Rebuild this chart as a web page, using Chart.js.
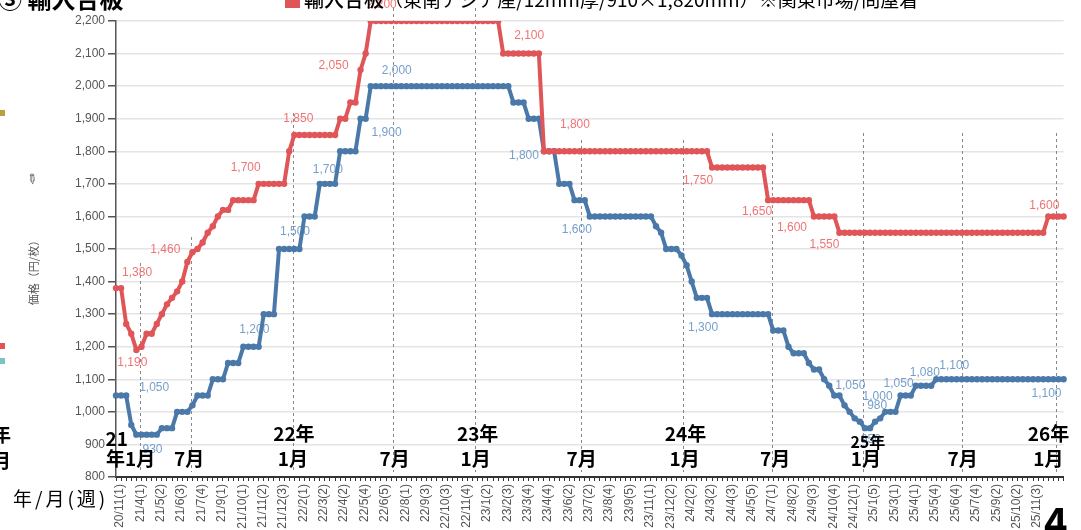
<!DOCTYPE html>
<html>
<head>
<meta charset="utf-8">
<script src="https://cdn.jsdelivr.net/npm/chart.js@4.4.1/dist/chart.umd.min.js"></script>
<style>
html, body { margin: 0; padding: 0; background: #fff; overflow: hidden; }
#wrap { position: relative; width: 1081px; height: 530px; overflow: hidden; font-family: "Noto Sans CJK JP", sans-serif; color: #000; }
#wrap canvas { position: absolute; left: 0; top: 0; }
.ov { position: absolute; white-space: nowrap; line-height: 1; }
.sq { position: absolute; width: 5px; height: 6px; }
</style>
</head>
<body>
<div id="wrap">
  <canvas id="chart" width="1081" height="530" style="width:1081px;height:530px"></canvas>

  <div class="ov" style="left:-2px;top:-14px;font-size:24px;font-weight:bold">③ 輸入合板</div>
  <div style="position:absolute;left:285px;top:-7px;width:15px;height:15px;background:#e05558"></div>
  <div class="ov" style="left:304px;top:-11px;font-size:20px;font-weight:500">輸入合板<span style="font-size:19px;font-weight:400">（東南アジア産/12mm厚/910×1,820mm）※関東市場/問屋着</span></div>

  <div class="sq" style="left:0;top:110px;background:#b8a040"></div>
  <div class="sq" style="left:0;top:343px;background:#e05558"></div>
  <div class="sq" style="left:0;top:358px;background:#7cc4c4"></div>
  <div class="ov" style="left:27px;top:172px;font-size:13px;color:#555;transform:rotate(40deg)">✎</div>
  <div class="ov" style="left:33px;top:270px;font-size:11px;color:#555;transform:translate(-50%,-50%) rotate(-90deg)">価格（円/枚）</div>
  <div class="ov" style="left:-8px;top:424px;font-size:19px;font-weight:bold">年</div>
  <div class="ov" style="left:-8px;top:450px;font-size:19px;font-weight:bold">月</div>
  <div class="ov" style="left:13px;top:488px;font-size:19px;letter-spacing:3px">年/月(週)</div>
  <div class="ov" style="left:1044px;top:500px;font-size:40px;font-weight:bold">4</div>
</div>

<script>
// tick labels shown under the axis (one every 4 weeks)
const tickLabels = [
  '20/11(1)', '21/4(1)', '21/5(2)', '21/6(3)', '21/7(4)', '21/9(1)', '21/10(1)', '21/11(2)',
  '21/12(3)', '22/2(1)', '22/3(2)', '22/4(2)', '22/5(4)', '22/6(5)', '22/8(1)', '22/9(3)',
  '22/10(3)', '22/11(4)', '23/1(2)', '23/2(3)', '23/3(4)', '23/4(4)', '23/6(2)', '23/7(2)',
  '23/8(4)', '23/9(5)', '23/11(1)', '23/12(2)', '24/2(2)', '24/3(2)', '24/4(3)', '24/5(5)',
  '24/7(1)', '24/8(2)', '24/9(3)', '24/10(4)', '24/12(1)', '25/1(5)', '25/3(1)', '25/4(1)',
  '25/5(4)', '25/6(4)', '25/7(4)', '25/9(2)', '25/10(2)', '25/11(3)'
];

// 輸入合板 (red)
const importPly = [
  1380,1380,1270,1240,1190,1200,1240,1240,1270,1300,
  1330,1350,1370,1400,1460,1490,1500,1520,1550,1570,
  1600,1620,1620,1650,1650,1650,1650,1650,1700,1700,
  1700,1700,1700,1700,1800,1850,1850,1850,1850,1850,
  1850,1850,1850,1850,1900,1900,1950,1950,2050,2100,
  2200,2200,2200,2200,2200,2200,2200,2200,2200,2200,
  2200,2200,2200,2200,2200,2200,2200,2200,2200,2200,
  2200,2200,2200,2200,2200,2200,2100,2100,2100,2100,
  2100,2100,2100,2100,1800,1800,1800,1800,1800,1800,
  1800,1800,1800,1800,1800,1800,1800,1800,1800,1800,
  1800,1800,1800,1800,1800,1800,1800,1800,1800,1800,
  1800,1800,1800,1800,1800,1800,1800,1750,1750,1750,
  1750,1750,1750,1750,1750,1750,1750,1750,1650,1650,
  1650,1650,1650,1650,1650,1650,1650,1600,1600,1600,
  1600,1600,1550,1550,1550,1550,1550,1550,1550,1550,
  1550,1550,1550,1550,1550,1550,1550,1550,1550,1550,
  1550,1550,1550,1550,1550,1550,1550,1550,1550,1550,
  1550,1550,1550,1550,1550,1550,1550,1550,1550,1550,
  1550,1550,1550,1600,1600,1600,1600
];

// 国産 (blue)
const domesticPly = [
  1050,1050,1050,960,930,930,930,930,930,950,
  950,950,1000,1000,1000,1020,1050,1050,1050,1100,
  1100,1100,1150,1150,1150,1200,1200,1200,1200,1300,
  1300,1300,1500,1500,1500,1500,1500,1600,1600,1600,
  1700,1700,1700,1700,1800,1800,1800,1800,1900,1900,
  2000,2000,2000,2000,2000,2000,2000,2000,2000,2000,
  2000,2000,2000,2000,2000,2000,2000,2000,2000,2000,
  2000,2000,2000,2000,2000,2000,2000,2000,1950,1950,
  1950,1900,1900,1900,1800,1800,1800,1700,1700,1700,
  1650,1650,1650,1600,1600,1600,1600,1600,1600,1600,
  1600,1600,1600,1600,1600,1600,1570,1550,1500,1500,
  1500,1480,1450,1400,1350,1350,1350,1300,1300,1300,
  1300,1300,1300,1300,1300,1300,1300,1300,1300,1250,
  1250,1250,1200,1180,1180,1180,1150,1130,1130,1100,
  1080,1050,1050,1020,1000,980,970,950,950,970,
  980,1000,1000,1000,1050,1050,1050,1080,1080,1080,
  1080,1100,1100,1100,1100,1100,1100,1100,1100,1100,
  1100,1100,1100,1100,1100,1100,1100,1100,1100,1100,
  1100,1100,1100,1100,1100,1100,1100
];

// which points carry a value label
const importLabelIdx = [1, 4, 14, 28, 35, 48, 50, 76, 84, 117, 128, 137, 142, 183];
const domesticLabelIdx = [2, 5, 25, 32, 40, 48, 50, 84, 93, 117, 141, 144, 147, 150, 154, 157, 161, 185];

// year / month markers (position in weeks along the axis)
const markPos = [4.65, 14.74, 34.72, 54.3, 70.4, 91.2, 111.2, 128.8, 146.6, 166.0, 184.6];
const markYear = ['21', '', '22年', '', '23年', '', '24年', '', '25年', '', '26年'];
const markMonth = ['年1月', '7月', '1月', '7月', '1月', '7月', '1月', '7月', '1月', '7月', '1月'];

// ---- styles ----
const RED = '#e05558', BLUE = '#4a79a9';
const importLabelOff = [[16,-15],[-4,13],[-22,-12],[-13,-16],[4,-16],[-27,-4],[11,-16],[26,-18],[31,-27],[-14,13],[-11,12],[-22,11],[-15,12],[-4,-11]];
const domesticLabelOff = [[28,-8],[11,15],[11,-17],[16,-17],[8,-14],[26,14],[26,-15],[-20,4],[-13,13],[-9,14],[16,-10],[28,-15],[6,12],[-3,-13],[-2,-12],[9,-13],[18,-14],[-12,14]];
const markTop = [263, 237, 113, 8, 8, 140, 140, 133, 133, 133, 133];
const yearDx = [-23, 0, 1, 0, 3, 0, 3, 0, 5, 0, -8];
const monthDx = [-9, -2, 0, 2, 1, 1, 2, 3, 3, 1, -8];

const categories = importPly.map((v, i) => (i % 4 === 0 ? (tickLabels[i / 4] || '') : ''));

const fmt = v => v.toLocaleString('en-US');

const markPlugin = {
  id: 'marks',
  beforeDatasetsDraw(chart) {
    const ctx = chart.ctx, a = chart.chartArea;
    const step = (a.right - a.left) / (categories.length - 1);
    ctx.save();
    ctx.strokeStyle = '#888';
    ctx.lineWidth = 1;
    ctx.setLineDash([3, 3]);
    markPos.forEach((p, k) => {
      const x = Math.round(a.left + p * step) + 0.5;
      ctx.beginPath();
      ctx.moveTo(x, markTop[k]);
      ctx.lineTo(x, 472);
      ctx.stroke();
    });
    ctx.restore();
  },
  afterDatasetsDraw(chart) {
    const ctx = chart.ctx, a = chart.chartArea;
    const step = (a.right - a.left) / (categories.length - 1);
    ctx.save();
    ctx.fillStyle = '#000';
    ctx.textAlign = 'center';
    ctx.textBaseline = 'middle';
    markPos.forEach((p, k) => {
      const x = a.left + p * step;
      if (markYear[k]) {
        const small = markYear[k] === '25年';
        ctx.font = 'bold ' + (small ? 16 : 19) + 'px "Noto Sans CJK JP"';
        ctx.fillText(markYear[k], x + yearDx[k], k === 0 ? 439 : (small ? 442 : 434));
      }
      ctx.font = 'bold 19px "Noto Sans CJK JP"';
      ctx.fillText(markMonth[k], x + monthDx[k], 459);
    });
    ctx.restore();
  }
};

const labelPlugin = {
  id: 'valueLabels',
  beforeDatasetsDraw(chart) {
    const ctx = chart.ctx, xs = chart.scales.x, ys = chart.scales.y;
    ctx.save();
    ctx.font = '12px "Liberation Sans"';
    ctx.textAlign = 'center';
    ctx.textBaseline = 'middle';
    const draw = (vals, idx, off, color) => {
      ctx.fillStyle = color;
      idx.forEach((i, k) => {
        ctx.fillText(fmt(vals[i]), xs.getPixelForValue(i) + off[k][0], ys.getPixelForValue(vals[i]) + off[k][1]);
      });
    };
    draw(importPly, importLabelIdx, importLabelOff, '#f07474');
    draw(domesticPly, domesticLabelIdx, domesticLabelOff, '#769fcb');
    ctx.restore();
  }
};

new Chart(document.getElementById('chart'), {
  type: 'line',
  data: {
    labels: categories,
    datasets: [
      { label: '輸入合板', data: importPly, borderColor: RED, backgroundColor: RED, pointBackgroundColor: RED,
        borderWidth: 4, pointRadius: 3.2, pointBorderWidth: 0, tension: 0 },
      { label: '国産合板', data: domesticPly, borderColor: BLUE, backgroundColor: BLUE, pointBackgroundColor: BLUE,
        borderWidth: 4, pointRadius: 3.2, pointBorderWidth: 0, tension: 0 }
    ]
  },
  options: {
    responsive: false,
    animation: false,
    devicePixelRatio: 1,
    layout: { padding: { top: 21, right: 6, bottom: 0, left: 0 } },
    plugins: { legend: { display: false }, tooltip: { enabled: false } },
    scales: {
      x: {
        offset: false,
        grid: { display: true, drawOnChartArea: false, drawTicks: true, tickLength: 4, tickColor: '#333' },
        border: { color: '#333', width: 2 },
        ticks: { autoSkip: false, minRotation: 90, maxRotation: 90, padding: 3, labelOffset: 4,
                 color: '#555', font: { size: 12, family: 'Liberation Sans' } },
        afterFit: s => { s.height = 53; }
      },
      y: {
        min: 800, max: 2200,
        ticks: { stepSize: 100, autoSkip: false, padding: 3, color: '#555', font: { size: 12, family: 'Liberation Sans' } },
        grid: { color: '#e4e4e4', lineWidth: 1.5, tickColor: '#555', tickLength: 8 },
        border: { color: '#555', width: 1.5 },
        afterFit: s => { s.height = s.height; s.width = 116; }
      }
    }
  },
  plugins: [markPlugin, labelPlugin]
});
</script>
</body>
</html>
